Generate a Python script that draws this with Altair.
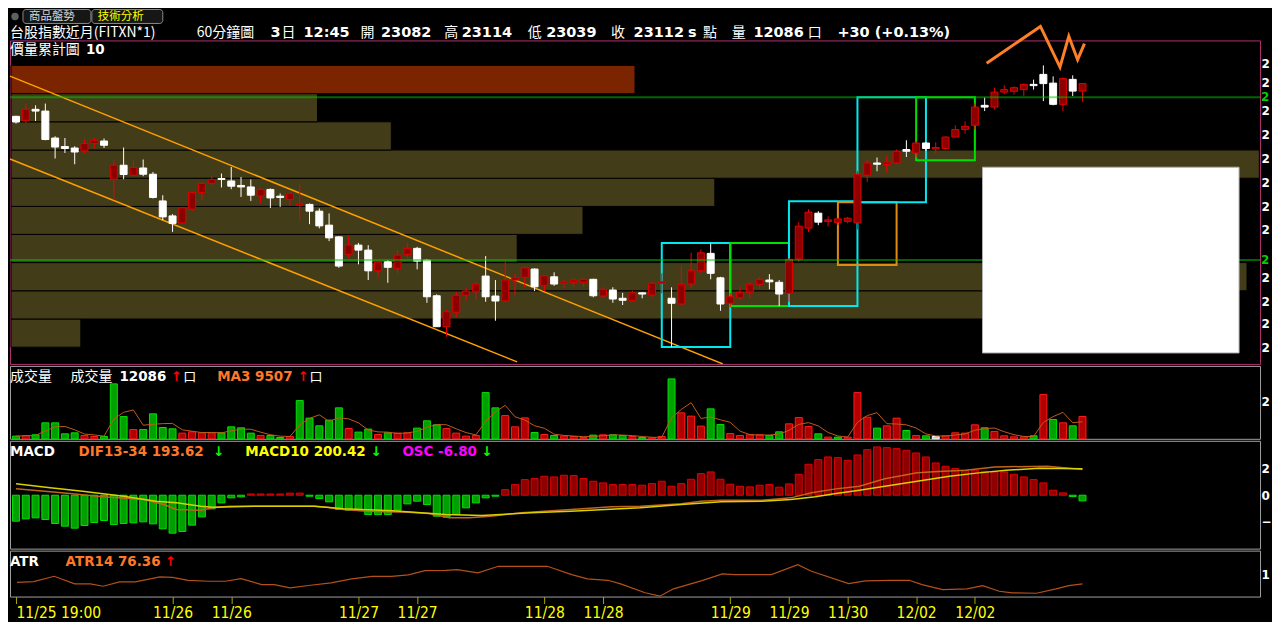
import altair as alt
import pandas as pd

# ------------------------------------------------------------------ data
opens = [22981, 22965, 23009, 23002, 22894, 22860, 22854, 22842, 22872, 22882,
         22729, 22785, 22745, 22774, 22749, 22642, 22582, 22554, 22609, 22676,
         22712, 22732, 22722, 22704, 22698, 22662, 22688, 22661, 22648, 22624,
         22628, 22601, 22545, 22498, 22428, 22465, 22445, 22362, 22398, 22372,
         22428, 22452, 22405, 22262, 22138, 22196, 22264, 22278, 22341, 22261,
         22241, 22325, 22336, 22369, 22302, 22338, 22312, 22316, 22316, 22328,
         22261, 22285, 22252, 22242, 22274, 22265, 22312, 22252, 22229, 22309,
         22362, 22432, 22334, 22232, 22254, 22276, 22308, 22325, 22316, 22272,
         22409, 22533, 22593, 22560, 22556, 22560, 22554, 22745, 22794, 22788,
         22794, 22848, 22834, 22874, 22850, 22852, 22898, 22928, 22945, 23025,
         23018, 23078, 23081, 23088, 23109, 23149, 23114, 23029, 23129, 23082]
highs = [22983, 23032, 23025, 23032, 22901, 22894, 22861, 22888, 22896, 22892,
         22805, 22856, 22808, 22808, 22758, 22665, 22589, 22618, 22681, 22718,
         22745, 22752, 22778, 22738, 22728, 22692, 22692, 22672, 22678, 22709,
         22632, 22612, 22592, 22501, 22501, 22474, 22465, 22405, 22405, 22445,
         22476, 22458, 22409, 22268, 22205, 22278, 22292, 22318, 22421, 22325,
         22398, 22352, 22378, 22372, 22345, 22356, 22325, 22332, 22330, 22330,
         22298, 22296, 22274, 22282, 22275, 22318, 22352, 22296, 22381, 22434,
         22448, 22472, 22338, 22272, 22298, 22318, 22338, 22349, 22325, 22412,
         22557, 22609, 22601, 22580, 22575, 22578, 22761, 22808, 22816, 22822,
         22848, 22885, 22881, 22878, 22877, 22901, 22945, 22961, 23032, 23056,
         23096, 23105, 23101, 23112, 23128, 23185, 23141, 23136, 23145, 23114]
lows = [22952, 22954, 22962, 22885, 22812, 22834, 22789, 22832, 22852, 22854,
        22645, 22729, 22741, 22741, 22652, 22565, 22518, 22552, 22601, 22645,
        22705, 22696, 22689, 22658, 22642, 22632, 22614, 22618, 22622, 22565,
        22549, 22532, 22481, 22374, 22412, 22388, 22325, 22338, 22314, 22352,
        22412, 22368, 22234, 22137, 22098, 22176, 22242, 22245, 22238, 22162,
        22238, 22265, 22296, 22281, 22281, 22302, 22292, 22296, 22298, 22256,
        22254, 22234, 22225, 22238, 22252, 22256, 22272, 22056, 22225, 22292,
        22352, 22328, 22202, 22216, 22245, 22252, 22289, 22288, 22221, 22238,
        22397, 22517, 22545, 22540, 22545, 22552, 22528, 22718, 22761, 22756,
        22792, 22818, 22816, 22842, 22832, 22848, 22896, 22912, 22928, 23002,
        23009, 23069, 23068, 23062, 23088, 23042, 23025, 23002, 23062, 23039]
closes = [22958, 23009, 23002, 22888, 22858, 22852, 22838, 22872, 22885, 22865,
          22785, 22748, 22776, 22749, 22656, 22578, 22552, 22614, 22676, 22712,
          22728, 22728, 22701, 22698, 22665, 22688, 22654, 22656, 22672, 22629,
          22601, 22542, 22494, 22381, 22465, 22445, 22362, 22398, 22376, 22425,
          22452, 22401, 22258, 22138, 22198, 22264, 22281, 22309, 22258, 22241,
          22325, 22334, 22374, 22298, 22342, 22309, 22318, 22325, 22328, 22262,
          22288, 22249, 22244, 22274, 22269, 22312, 22318, 22232, 22308, 22362,
          22434, 22352, 22229, 22258, 22276, 22308, 22328, 22318, 22269, 22408,
          22541, 22597, 22557, 22566, 22570, 22573, 22749, 22794, 22789, 22798,
          22841, 22841, 22874, 22852, 22856, 22898, 22928, 22941, 23018, 23018,
          23078, 23088, 23096, 23109, 23104, 23112, 23029, 23132, 23082, 23112]
volumes = [1460, 1790, 2170, 8670, 8670, 2710, 3250, 1790, 1250, 1250,
           29810, 12090, 5040, 5040, 13550, 6130, 5420, 3090, 3790, 3250,
           3250, 3250, 6500, 5960, 3090, 1790, 1790, 700, 1250, 20760,
           11220, 7050, 10140, 16800, 5580, 3630, 5260, 2330, 3250, 3090,
           3250, 5800, 9760, 7590, 5580, 3090, 1460, 1790, 25100, 16800,
           12630, 6500, 11380, 3420, 2330, 1790, 1460, 1250, 700, 2000,
           2170, 2170, 1790, 1250, 700, 540, 1250, 32520, 14090, 12300,
           6880, 16260, 7750, 2870, 1790, 2170, 2170, 1790, 3790, 8130,
           11550, 6670, 2710, 920, 920, 920, 25100, 11760, 5800, 7050,
           11220, 4500, 1790, 1630, 1250, 1630, 3250, 3090, 7590, 5960,
           3960, 1630, 1080, 1080, 1630, 24010, 10460, 8670, 7050, 12086]
vol_dir = ["d", "u", "d", "d", "d", "d", "d", "u", "u", "d",
           "d", "d", "u", "d", "d", "d", "d", "u", "u", "u",
           "u", "d", "d", "d", "d", "u", "d", "d", "u", "d",
           "d", "d", "d", "d", "u", "d", "d", "u", "d", "u",
           "u", "d", "d", "d", "u", "u", "u", "u", "d", "d",
           "u", "u", "u", "d", "u", "d", "u", "u", "u", "d",
           "u", "d", "d", "u", "d", "u", "u", "d", "u", "u",
           "u", "d", "d", "u", "u", "u", "u", "d", "d", "u",
           "u", "u", "d", "u", "d", "u", "u", "u", "d", "u",
           "u", "d", "u", "d", "e", "u", "u", "u", "u", "d",
           "u", "u", "u", "u", "d", "u", "d", "u", "d", "u"]
osc = [-31.2, -28.4, -27.2, -29.2, -34, -37.2, -39.6, -36.4, -32.8, -30.4,
       -35.2, -34, -33.2, -32, -34.4, -40.4, -45.6, -43.6, -36, -26,
       -16.4, -9.2, -3.2, -2, 1.5, 1.5, 1.5, 1.5, 2.5, 2.5,
       -1.2, -4, -8, -17.2, -18, -18, -23.2, -23.2, -23.2, -18,
       -10.4, -7.2, -11.2, -25.2, -26.4, -23.2, -15.2, -9.2, -3.2, -1.2,
       6.8, 12.8, 18.8, 20, 22.8, 22, 24, 23.6, 20, 16.8,
       14.8, 12.8, 12.8, 12.8, 12, 14, 16.8, 10.8, 14, 19.2,
       26, 28, 19.2, 13.2, 10.8, 10, 12, 12.8, 9.6, 13.6,
       25.2, 37.2, 42.8, 46, 45.2, 42, 48.4, 54.8, 58, 57.2,
       56, 54, 50.8, 46, 38.8, 34.8, 32, 30, 30, 28.8,
       28, 28, 25.2, 22, 18.8, 14.8, 6, 2.8, -1.6, -6.8]
dif_idx = [0, 4.7, 8.9, 13.1, 15.1, 16.4, 18.9, 20.1, 21.8, 30.5,
           31.8, 33.5, 35.9, 40.1, 42.2, 44.3, 46.3, 48.5, 51.7, 56.7,
           60.9, 63.8, 68, 70, 72.1, 76.2, 79.2, 81.3, 83.8, 86.2,
           88.8, 92.1, 93.8, 97.1, 100, 105.4, 109]
dif_val = [48, 18, -12, -32, -70, -108, -113, -95, -83, -83,
           -91, -108, -121, -128, -138, -171, -171, -159, -133, -108,
           -88, -83, -65, -45, -38, -38, -20, 18, 48, 68,
           124, 169, 177, 189, 214, 219, 193.62]
macd_idx = [0, 3.5, 6.8, 11, 14.3, 16.4, 18.9, 20.1, 24.3, 30.5,
            33.5, 38.5, 43.9, 47.6, 52.6, 56.7, 63.8, 68, 72.1, 76.2,
            79.2, 81.7, 83.8, 86.2, 88.8, 92.1, 95.4, 98.4, 101.2, 104.6, 109]
macd_val = [86, 56, 30, -8, -45, -57, -83, -91, -83, -83,
            -103, -118, -146, -153, -133, -121, -95, -70, -50, -45,
            -32, -12, 13, 38, 68, 106, 143, 169, 189, 204, 200.42]
atr_idx = [0.1, 1.8, 3.9, 6.0, 7.6, 8.9, 10.6, 12.2, 14.7, 16.0,
           17.6, 19.7, 21.4, 23.0, 25.1, 26.4, 28.0, 30.1, 32.2, 34.3,
           36.4, 38.4, 40.1, 41.8, 43.9, 45.1, 47.2, 49.3, 51.8, 54.3,
           56.8, 58.4, 60.5, 61.8, 64.3, 65.8, 67.2, 70.1, 72.2, 73.4,
           77.2, 79.9, 81.3, 85.1, 86.8, 89.3, 91.3, 92.6, 94.7, 97.2,
           98.8, 100.5, 101.8, 104.3, 106.3, 107.6, 109]
atr_val = [80.4, 82.2, 95.7, 76.4, 76.4, 70.3, 81.4, 81.4, 94.2, 93.1,
           85.5, 83.0, 83.0, 89.8, 74.6, 74.6, 66.2, 72.8, 78.9, 89.1,
           95.7, 95.7, 99.2, 110.2, 110.9, 112.7, 104.3, 121.1, 121.1, 121.1,
           100.0, 89.1, 85.5, 76.4, 53.7, 45.0, 63.8, 84.8, 101.8, 100.0,
           100.0, 125.4, 108.5, 77.1, 83.9, 85.5, 85.5, 74.6, 61.9, 63.7,
           72.0, 57.6, 53.5, 52.5, 63.8, 72.0, 76.36]
# price-volume profile (10 price bins)
profile_lo = [22056, 22169, 22282, 22395, 22508, 22620, 22733, 22846, 22959, 23072]
profile_hi = [22169, 22282, 22395, 22508, 22620, 22733, 22846, 22959, 23072, 23185]
profile_vol = [4190, 59300, 74160, 30370, 34320, 42230, 74900, 22820, 18390, 37440]
profile_hot = [0, 0, 0, 0, 0, 0, 0, 0, 0, 1]
# drawn objects
green_levels = [23057, 22405]
chan_idx = [[-0.612, 72.24], [-0.612, 51.22]]
chan_price = [[23142, 21989], [22810, 21997]]
box_i0 = [66, 73, 79, 84, 86, 92]
box_i1 = [73, 79, 86, 90, 93, 98]
box_lo = [22057, 22221, 22221, 22385, 22637, 22805]
box_hi = [22473, 22473, 22641, 22637, 23057, 23057]
box_kind = ["cyan", "green", "cyan", "orange", "cyan", "green"]
cover_idx = [98.78, 125.0]
cover_price = [22033, 22777]
sketch_idx = [99.2, 104.7, 106.7, 107.6, 108.5, 109.2]
sketch_price = [23194, 23341, 23178, 23302, 23208, 23272]
price_ticks = [23193, 23115, 23005, 22909, 22813, 22717, 22621, 22529,
               22337, 22241, 22149, 22053]
tick_idx = [0, 16, 22, 35, 41, 54, 60, 73, 79, 85, 92, 98]
tick_lab = ["11/25 19:00", "11/26", "11/26", "11/27", "11/27", "11/28", "11/28",
            "11/29", "11/29", "11/30", "12/02", "12/02"]

# ------------------------------------------------------------------ frames
n = len(opens)
cdf = pd.DataFrame({"i": list(range(n)), "o": opens, "h": highs, "l": lows, "c": closes,
                    "v": volumes, "d": vol_dir, "osc": osc})
pdf = pd.DataFrame({"lo": profile_lo, "hi": profile_hi, "pv": profile_vol,
                    "z": [0] * len(profile_lo), "hot": profile_hot})
gdf = pd.DataFrame({"p": green_levels})
chdf = pd.DataFrame({"i": chan_idx[0] + chan_idx[1], "p": chan_price[0] + chan_price[1],
                     "g": ["a", "a", "b", "b"]})
bxdf = pd.DataFrame({"i0": box_i0, "i1": box_i1, "lo": box_lo, "hi": box_hi, "k": box_kind})
cvdf = pd.DataFrame({"i0": [cover_idx[0]], "i1": [cover_idx[1]], "lo": [cover_price[0]],
                     "hi": [cover_price[1]]})
skdf = pd.DataFrame({"i": sketch_idx, "p": sketch_price, "o": list(range(len(sketch_idx)))})
mdf = pd.DataFrame({"i": dif_idx + macd_idx, "v": dif_val + macd_val,
                    "s": ["DIF"] * len(dif_idx) + ["MACD"] * len(macd_idx)})
adf = pd.DataFrame({"i": atr_idx, "v": atr_val})
one = pd.DataFrame({"k": [0]})

# ------------------------------------------------------------------ style
# the page's content box is 1264 px wide: keep plot + right labels inside it
W = 1252
XDOM = [-0.612, 127.143]
PDOM = [21989, 23285]
SANS = "DejaVu Sans"
CJK = "Noto Sans CJK TC"
ORANGE_T = "#ff7828"


def Xi(f, axis=None):
    sc = alt.Scale(domain=XDOM, nice=False, zero=False, padding=0)
    if axis is None:
        return alt.X(f, type="quantitative", scale=sc, axis=None)
    return alt.X(f, type="quantitative", scale=sc, axis=axis)


def right_axis(values):
    return alt.Axis(orient="right", values=values, labelExpr="substring(datum.label, 0, 1)",
                    ticks=False, domain=False, grid=False, labelColor="#ffffff", labelFont=SANS,
                    labelFontWeight="bold", labelFontSize=12, labelPadding=1, title=None,
                    labelOverlap=False)


price_axis = right_axis(price_ticks)


def Yp(f):
    return alt.Y(f, type="quantitative", scale=alt.Scale(domain=PDOM, nice=False, zero=False, padding=0),
                 axis=price_axis)


def label(x, y, s, color="#ffffff", size=13.5, bold=True, font=SANS):
    return alt.Chart(one).mark_text(
        align="left", baseline="alphabetic", font=font, fontSize=size,
        fontWeight="bold" if bold else "normal", color=color
    ).encode(x=alt.value(x), y=alt.value(y), text=alt.value(s))


up = "datum.c > datum.o"

# ------------------------------------------------------------------ main panel
profile = alt.Chart(pdf).transform_calculate(
    col="datum.hot == 1 ? '#7a2500' : '#433c18'"
).mark_rect(stroke="#000000", strokeWidth=1).encode(
    x=alt.X("z:Q", scale=alt.Scale(domain=[-60, 74940], nice=False, zero=False, padding=0), axis=None),
    x2=alt.X2("pv:Q"), y=Yp("lo"), y2=alt.Y2("hi"),
    fill=alt.Fill("col:N", scale=None))
channel = alt.Chart(chdf).mark_line(color="#ffa000", strokeWidth=1.5, clip=True).encode(
    x=Xi("i"), y=Yp("p"), detail="g:N")
boxes = alt.Chart(bxdf).transform_calculate(
    col="datum.k == 'cyan' ? '#00e8f0' : (datum.k == 'green' ? '#00e000' : '#e08a10')"
).mark_rect(filled=False, strokeWidth=2).encode(
    x=Xi("i0"), x2=alt.X2("i1"), y=Yp("lo"), y2=alt.Y2("hi"),
    stroke=alt.Stroke("col:N", scale=None))
wicks = alt.Chart(cdf).mark_rule(strokeWidth=1).encode(
    x=Xi("i"), y=Yp("l"), y2=alt.Y2("h"),
    color=alt.condition(up, alt.value("#f00000"), alt.value("#ffffff")))
bodies = alt.Chart(cdf).mark_bar(size=7, strokeWidth=1).encode(
    x=Xi("i"), y=Yp("o"), y2=alt.Y2("c"),
    fill=alt.condition(up, alt.value("#8c0000"), alt.value("#ffffff")),
    stroke=alt.condition(up, alt.value("#e00000"), alt.value("#ffffff")))
glines = alt.Chart(gdf).mark_rule(color="#00c800", strokeWidth=2, opacity=0.5).encode(y=Yp("p"))
glabels = alt.Chart(gdf).transform_calculate(lab="substring(toString(datum.p), 0, 1)").mark_text(
    align="left", baseline="middle", font=SANS, fontWeight="bold", fontSize=12, color="#00d000"
).encode(x=alt.value(W + 1), y=Yp("p"), text="lab:N")
cover = alt.Chart(cvdf).mark_rect(fill="#ffffff", stroke="#b0b0b0", strokeWidth=1).encode(
    x=Xi("i0"), x2=alt.X2("i1"), y=Yp("lo"), y2=alt.Y2("hi"))
sketch = alt.Chart(skdf).mark_line(color="#ff7f27", strokeWidth=3).encode(
    x=Xi("i"), y=Yp("p"), order="o:Q")

tab1 = alt.Chart(one).mark_rect(fill="#161616", stroke="#8a8a8a", strokeWidth=1, cornerRadius=3).encode(
    x=alt.value(13), x2=alt.value(81), y=alt.value(-31), y2=alt.value(-17))
tab2 = alt.Chart(one).mark_rect(fill="#161616", stroke="#8a8a8a", strokeWidth=1, cornerRadius=3).encode(
    x=alt.value(82), x2=alt.value(153), y=alt.value(-31), y2=alt.value(-17))
knob = alt.Chart(one).mark_circle(size=55, color="#606060", opacity=1).encode(
    x=alt.value(5), y=alt.value(-24))

header = [
    tab1, tab2, knob,
    label(19, -20.3, "商品盤勢", "#d8d8d8", 11.5, False, CJK),
    label(88, -20.3, "技術分析", "#ffff00", 11.5, False, CJK),
    label(0, -3.5, "台股指數近月(FITXN*1)", "#ffffff", 14, False, CJK),
    label(187, -3.5, "60分鐘圖", "#ffffff", 14, False, CJK),
    label(261, -3.5, "3", "#ffffff", 14.5, True),
    label(272, -3.5, "日", "#ffffff", 14, False, CJK),
    label(294, -3.5, "12:45", "#ffffff", 14.5, True),
    label(351, -3.5, "開", "#ffffff", 14, False, CJK),
    label(371.6, -3.5, "23082", "#ffffff", 14.5, True),
    label(435, -3.5, "高", "#ffffff", 14, False, CJK),
    label(452.4, -3.5, "23114", "#ffffff", 14.5, True),
    label(518.5, -3.5, "低", "#ffffff", 14, False, CJK),
    label(537, -3.5, "23039", "#ffffff", 14.5, True),
    label(602, -3.5, "收", "#ffffff", 14, False, CJK),
    label(624.6, -3.5, "23112", "#ffffff", 14.5, True),
    label(679, -3.5, "s", "#ffffff", 14.5, True),
    label(694, -3.5, "點", "#ffffff", 14, False, CJK),
    label(723, -3.5, "量", "#ffffff", 14, False, CJK),
    label(744.6, -3.5, "12086", "#ffffff", 14.5, True),
    label(799, -3.5, "口", "#ffffff", 14, False, CJK),
    label(828.7, -3.5, "+30 (+0.13%)", "#ffffff", 14.5, True),
    label(0, 14, "價量累計圖", "#ffffff", 14, False, CJK),
    label(76, 14, "10", "#ffffff", 13.5, True),
]

main = alt.layer(profile, channel, boxes, wicks, bodies, glines, glabels, cover, sketch, *header).resolve_scale(
    x="independent").properties(width=W, height=324,
                                view=alt.ViewBackground(stroke="#b03070", strokeWidth=1))

# ------------------------------------------------------------------ volume panel
VDOM = [0, 39566]
vbars = alt.Chart(cdf).transform_calculate(
    fc="datum.d == 'u' ? '#b00000' : (datum.d == 'd' ? '#00a000' : '#c8c8c8')",
    sc="datum.d == 'u' ? '#ff1a1a' : (datum.d == 'd' ? '#00e000' : '#ffffff')"
).mark_bar(size=7, strokeWidth=1).encode(
    x=Xi("i"),
    y=alt.Y("v:Q", scale=alt.Scale(domain=VDOM, nice=False, padding=0), axis=right_axis([20000])),
    fill=alt.Fill("fc:N", scale=None), stroke=alt.Stroke("sc:N", scale=None))
vma = alt.Chart(cdf).transform_window(ma="mean(v)", frame=[-2, 0], sort=[alt.SortField("i")]).mark_line(
    color="#c05a18", strokeWidth=1).encode(
    x=Xi("i"), y=alt.Y("ma:Q", scale=alt.Scale(domain=VDOM, nice=False, padding=0), axis=right_axis([20000])))
vol_texts = [
    label(0, 15.5, "成交量", "#ffffff", 14, False, CJK),
    label(60.6, 15.5, "成交量", "#ffffff", 14, False, CJK),
    label(109.6, 15.5, "12086", "#ffffff", 13.5, True),
    label(161, 15.5, "↑", "#ff0000", 13.5, True),
    label(173.6, 15.5, "口", "#ffffff", 13, False, CJK),
    label(207.5, 15.5, "MA3 9507", ORANGE_T, 13.5, True),
    label(288, 15.5, "↑", "#ff0000", 13.5, True),
    label(300, 15.5, "口", "#ffffff", 13, False, CJK),
]
vol = alt.layer(vbars, vma, *vol_texts).properties(
    width=W, height=73, view=alt.ViewBackground(stroke="#a0a0a0", strokeWidth=1))

# ------------------------------------------------------------------ MACD panel
hist = alt.Chart(cdf).mark_bar(size=7, strokeWidth=1).encode(
    x=Xi("i"),
    y=alt.Y("osc:Q", scale=alt.Scale(domain=[-64.2, 65.4], nice=False, zero=False, padding=0), axis=None),
    fill=alt.condition("datum.osc > 0", alt.value("#900000"), alt.value("#00a000")),
    stroke=alt.condition("datum.osc > 0", alt.value("#e00000"), alt.value("#00e000")))
mlines = alt.Chart(mdf).transform_calculate(
    col="datum.s == 'DIF' ? '#c0641e' : '#d8d000'"
).mark_line(strokeWidth=1.5).encode(
    x=Xi("i"),
    y=alt.Y("v:Q", scale=alt.Scale(domain=[-403.9, 411.5], nice=False, zero=False, padding=0),
            axis=right_axis([-200, 0, 200])),
    detail="s:N", color=alt.Color("col:N", scale=None))
macd_texts = [
    label(0, 15, "MACD", "#ffffff", 13.5, True),
    label(68.7, 15, "DIF13-34 193.62", ORANGE_T, 13.5, True),
    label(203.4, 15, "↓", "#00ff00", 13.5, True),
    label(235.7, 15, "MACD10 200.42", "#ffff00", 13.5, True),
    label(361, 15, "↓", "#00ff00", 13.5, True),
    label(393, 15, "OSC -6.80", "#ff00ff", 13.5, True),
    label(472, 15, "↓", "#00ff00", 13.5, True),
]
macd = alt.layer(hist, mlines, *macd_texts).resolve_scale(y="independent").properties(
    width=W, height=108, view=alt.ViewBackground(stroke="#a0a0a0", strokeWidth=1))

# ------------------------------------------------------------------ ATR panel
lab_expr = ("[" + ",".join("'" + s + "'" for s in tick_lab) + "][indexof(["
            + ",".join(str(v) for v in tick_idx) + "], datum.value)]")
x_axis = alt.Axis(values=tick_idx, labelExpr=lab_expr, orient="bottom", domain=False, grid=False,
                  ticks=True, tickColor="#a8a800", tickSize=7, labelColor="#ffff00",
                  labelFont="Liberation Sans Narrow, DejaVu Sans Condensed, Liberation Sans",
                  labelFontSize=15.5, labelPadding=2, labelFlush=10, labelOverlap=False, title=None)
atr_line = alt.Chart(adf).mark_line(color="#b4501a", strokeWidth=1.2).encode(
    x=Xi("i", x_axis),
    y=alt.Y("v:Q", scale=alt.Scale(domain=[44.1, 161.0], nice=False, zero=False, padding=0),
            axis=right_axis([100])))
atr_texts = [
    label(0, 15, "ATR", "#ffffff", 13.5, True),
    label(55.7, 15, "ATR14 76.36", ORANGE_T, 13.5, True),
    label(155, 15, "↑", "#ff0000", 13.5, True),
]
atr = alt.layer(atr_line, *atr_texts).properties(
    width=W, height=46, view=alt.ViewBackground(stroke="#a0a0a0", strokeWidth=1))

chart = alt.vconcat(main, vol, macd, atr, spacing=0).properties(
    padding=0, background="#000000").configure_view(strokeWidth=1)

chart.save("out.html", embed_options={"renderer": "svg", "actions": False})
